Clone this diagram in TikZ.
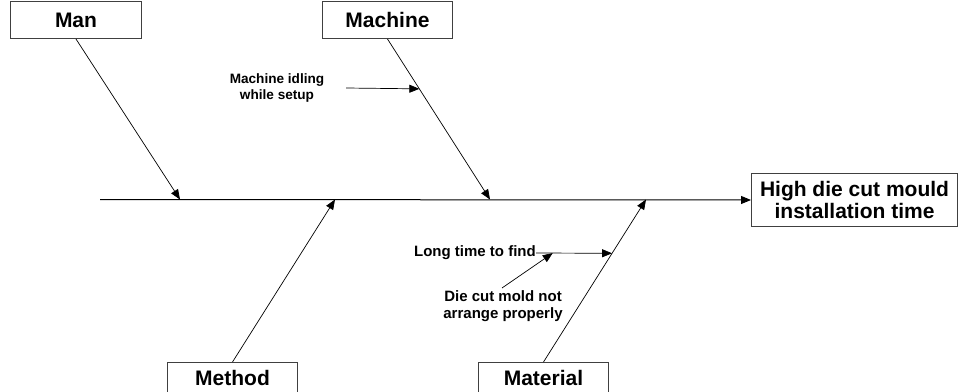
\documentclass[tikz,border=0pt]{standalone}
\usepackage{fontspec}
\setmainfont{Liberation Sans}
\usetikzlibrary{arrows.meta,calc}

\tikzset{
  catbox/.style={draw=black!75, line width=1pt, rectangle, inner sep=0pt,
    font=\fontsize{21}{22}\selectfont\bfseries, anchor=north west},
  bone/.style={line width=0.7pt, -{Triangle[length=10pt,width=8pt]}},
  spineline/.style={line width=1pt, -{Triangle[length=10pt,width=8pt]}},
  causetext/.style={inner sep=0pt, align=center, font=\fontsize{13.6}{16.5}\selectfont\bfseries},
  subtext/.style={inner sep=0pt, align=center, font=\fontsize{15}{17}\selectfont\bfseries}
}

\begin{document}
\begin{tikzpicture}[x=1pt, y=-1pt]
  \useasboundingbox (0,0) rectangle (958,391);
  \clip (0,0) rectangle (958,391);

  % category boxes
  \node[catbox, minimum width=131pt, minimum height=37pt] (man) at (10,1) {Man};
  \node[catbox, minimum width=130pt, minimum height=37pt] (machine) at (322,1) {Machine};
  \node[catbox, minimum width=130pt, minimum height=30pt] (method) at (167,362) {Method};
  \node[catbox, minimum width=130pt, minimum height=30pt] (material) at (478,362) {Material};

  % effect box
  \node[catbox, minimum width=206pt, minimum height=53pt, align=center] (effect) at (751,173)
    {High die cut mould\\installation time};

  % spine
  \coordinate (tail) at (100,199.5);
  \draw[spineline] (tail) -- (effect.west);

  % bones meeting the spine
  \coordinate (mantip) at (180,199.5);
  \coordinate (machtip) at (490,199.5);
  \coordinate (methtip) at (335,199.5);
  \coordinate (mattip) at (646,199.5);
  \draw[bone] (man.south) -- (mantip);
  \draw[bone] (machine.south) -- (machtip);
  \draw[bone] (method.north) -- (methtip);
  \draw[bone] (material.north) -- (mattip);

  % machine cause
  \node[causetext] (idle) at (277,88) {Machine idling\\while setup};
  \coordinate (idlestart) at (346,88);
  \coordinate (idlehit) at ($(machine.south)!0.3106!(machtip)$);
  \draw[bone] (idlestart) -- (idlehit);

  % material causes
  \node[subtext, anchor=east] (find) at (536,253) {Long time to find};
  \coordinate (findhit) at ($(material.north)!0.669!(mattip)$);
  \draw[bone] (find.east) -- (findhit);

  \node[subtext] (arrange) at (503,306) {Die cut mold not\\arrange properly};
  \coordinate (arrstart) at (502,288);
  \coordinate (arrhit) at ($(find.east)!0.22!(findhit)$);
  \draw[bone] (arrstart) -- (arrhit);
\end{tikzpicture}
\end{document}
